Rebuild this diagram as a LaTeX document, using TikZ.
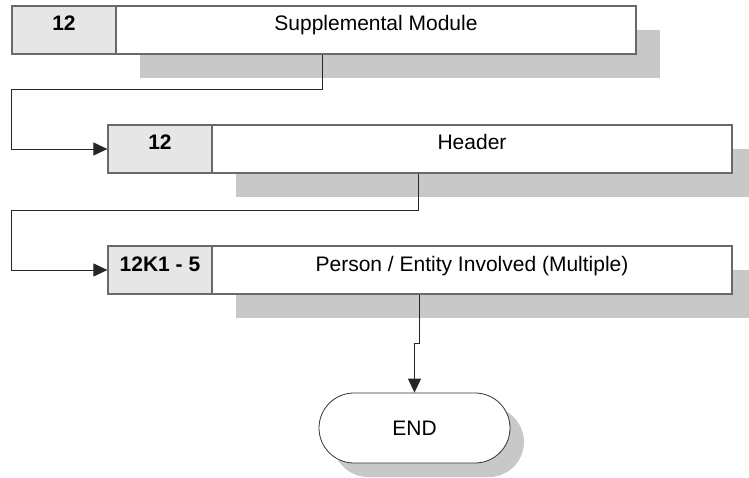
\documentclass[tikz,border=0pt]{standalone}
\usepackage{fontspec}
\setmainfont{Liberation Sans}
\usepackage{tikz}
\usetikzlibrary{arrows.meta, shapes.misc, shadows}
\definecolor{CodeGray}{RGB}{230,230,230}
\definecolor{ShadowGray}{RGB}{200,200,201}
\definecolor{EdgeGray}{RGB}{105,105,105}

\begin{document}
\begin{tikzpicture}[x=1pt, y=-1pt, font=\fontsize{21}{24}\selectfont,
	code/.style={draw=EdgeGray, line width=1.2pt, fill=CodeGray, minimum width=104pt, minimum height=48pt,
		inner sep=0pt, text height=15pt, text depth=13pt, font=\fontsize{21}{24}\selectfont\bfseries},
	sect/.style={draw=EdgeGray, line width=1.2pt, fill=white, minimum width=520pt, minimum height=48pt,
		inner sep=0pt, text height=15pt, text depth=13pt,
		drop shadow={shadow xshift=24pt, shadow yshift=-24pt, fill=ShadowGray, opacity=1}},
	term/.style={rounded rectangle, draw=black!80, line width=0.8pt, fill=white, minimum width=191pt,
		minimum height=70pt, inner sep=0pt,
		drop shadow={shadow xshift=14pt, shadow yshift=-14pt, fill=ShadowGray, opacity=1}},
	fl/.style={-{Triangle[length=14pt, width=13pt]}, line width=0.9pt, black!85}]
	\useasboundingbox (0,0) rectangle (749,478);
	% supplemental module
	\node[sect] (m1) at (376,30) {Supplemental Module};
	\node[code] (c1) at (64,30) {12};
	% header
	\node[sect] (m2) at (472,149) {Header};
	\node[code] (c2) at (160,149) {12};
	% person / entity
	\node[sect] (m3) at (472,270) {Person / Entity Involved (Multiple)};
	\node[code] (c3) at (160,270) {12K1 - 5};
	% end
	\node[term] (fin) at (414.5,428) {END};
	% flow
	\draw[fl] ([xshift=207pt]m1.south west) -- ++(0,35) -| ([xshift=-96pt]c2.west) -- (c2.west);
	\draw[fl] ([xshift=207pt]m2.south west) -- ++(0,37) -| ([xshift=-96pt]c3.west) -- (c3.west);
	\draw[fl] ([xshift=208pt]m3.south west) -- ++(0,49) -| (fin.north);
\end{tikzpicture}
\end{document}
